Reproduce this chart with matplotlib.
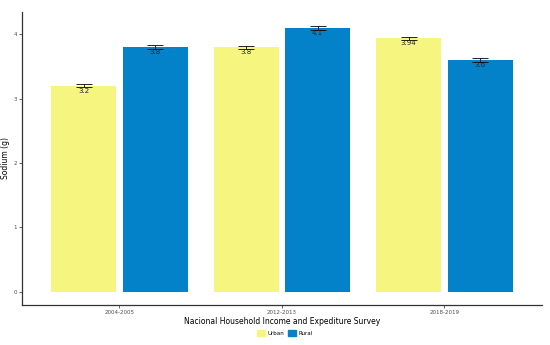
import matplotlib.pyplot as plt
import numpy as np
from matplotlib.patches import Patch

surveys = ['2004-2005', '2012-2013', '2018-2019']
urban = [3.2, 3.8, 3.94]
rural = [3.8, 4.1, 3.6]
urban_err = [0.025, 0.025, 0.025]
rural_err = [0.03, 0.035, 0.025]
urban_lab = ['3.2', '3.8', '3.94']
rural_lab = ['3.8', '4.1', '3.6']

c_urban = '#F6F580'
c_rural = '#0382CA'

fig = plt.figure(figsize=(5.5, 3.45), dpi=100)
ax = fig.add_axes([0.04, 0.116, 0.945, 0.85])

x = np.arange(1, len(surveys) + 1)
w = 0.4
off = 0.22
for xs, vals, errs, labs, col in [(x - off, urban, urban_err, urban_lab, c_urban),
                                  (x + off, rural, rural_err, rural_lab, c_rural)]:
    ax.bar(xs, vals, width=w, color=col, zorder=2)
    ax.errorbar(xs, vals, yerr=errs, fmt='none', ecolor='black', elinewidth=0.6,
                capsize=6, capthick=0.6, zorder=3)
    for xi, v, lab in zip(xs, vals, labs):
        ax.text(xi, v - 0.035, lab, ha='center', va='top', fontsize=5, color='#222222', zorder=4)

ax.set_xlim(0.4, 3.6)
ax.set_ylim(-0.207, 4.35)
ax.set_xticks(x)
ax.set_xticklabels(surveys)
ax.set_yticks([0, 1, 2, 3, 4])
ax.tick_params(axis='both', labelsize=4, colors='#4d4d4d', length=2, width=0.6, pad=1.5)
for s in ['top', 'right']:
    ax.spines[s].set_visible(False)
for s in ['left', 'bottom']:
    ax.spines[s].set_color('#333333')
    ax.spines[s].set_linewidth(0.9)

ax.set_ylabel('Sodium (g)', fontsize=5.5)
ax.yaxis.set_label_coords(-0.024, 0.5)
ax.set_xlabel('Nacional Household Income and Expediture Survey', fontsize=5.5, labelpad=1.5)

handles = [Patch(color=c_urban, label='Urban'), Patch(color=c_rural, label='Rural')]
fig.legend(handles=handles, loc='center', bbox_to_anchor=(0.518, 0.035), ncol=2,
           frameon=False, fontsize=4, handlelength=1.4, handleheight=1.4,
           columnspacing=0.6, handletextpad=0.5)

fig.savefig('out.png', dpi=100)
